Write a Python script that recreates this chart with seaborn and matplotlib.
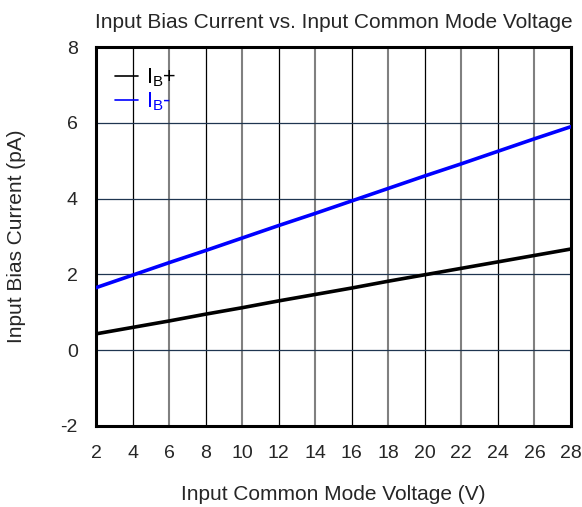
import pandas as pd
import matplotlib.pyplot as plt
import seaborn as sns

# Input common mode voltage (V)
vcm = [2, 4, 6, 8, 10, 12, 14, 16, 18, 20, 22, 24, 26, 28]
# Input bias current (pA)
ib_plus = [0.43, 0.60, 0.77, 0.95, 1.12, 1.30, 1.47, 1.64, 1.82, 1.99, 2.16, 2.33, 2.50, 2.67]
ib_minus = [1.65, 1.98, 2.31, 2.63, 2.96, 3.29, 3.61, 3.94, 4.27, 4.60, 4.92, 5.25, 5.58, 5.90]

series_names = [r'$\mathregular{I_B}$+', r'$\mathregular{I_B}$-']
series_colors = ['black', '#0000ff']

df = pd.DataFrame({
    'vcm': vcm * 2,
    'ib': ib_plus + ib_minus,
    'series': [series_names[0]] * len(vcm) + [series_names[1]] * len(vcm),
})

sns.set_style('white')
plt.rcParams['font.family'] = ['Liberation Sans', 'DejaVu Sans']
plt.rcParams['mathtext.fontset'] = 'custom'
plt.rcParams['mathtext.rm'] = 'Liberation Sans'
plt.rcParams['mathtext.it'] = 'Liberation Sans'
plt.rcParams['axes.unicode_minus'] = False

fig = plt.figure(figsize=(5.82, 5.07), dpi=100)
ax = fig.add_axes([0.165, 0.160, 0.816, 0.747])

# grid: every 2 V, alternating black / gray; horizontal dark navy
for x in range(4, 28, 4):
    ax.axvline(x, color='black', lw=0.9, zorder=1)
for x in range(6, 28, 4):
    ax.axvline(x, color='#808080', lw=1.5, zorder=1)
for y in [0, 2, 4, 6]:
    ax.axhline(y, color='#1f3550', lw=0.9, zorder=1)

sns.lineplot(data=df, x='vcm', y='ib', hue='series', palette=series_colors,
             linewidth=2.6, ax=ax, zorder=3, legend=False)

ax.set_xlim(2, 28)
ax.set_ylim(-2, 8)
ax.set_xticks(range(2, 29, 2))
ax.set_yticks(range(-2, 9, 2))
ax.tick_params(axis='both', length=0, labelsize=14)
ax.tick_params(axis='x', pad=14)
ax.tick_params(axis='y', pad=13)
for s in ax.spines.values():
    s.set_linewidth(2.2)
    s.set_color('black')

ax.set_xlabel('Input Common Mode Voltage (V)', fontsize=15)
ax.set_ylabel('Input Bias Current (pA)', fontsize=15)
ax.xaxis.set_label_coords(0.5, -0.155)
ax.yaxis.set_label_coords(-0.148, 0.5)
ax.set_title('Input Bias Current vs. Input Common Mode Voltage', fontsize=15, pad=14)

handles = [plt.Line2D([], [], color=c, lw=1.2) for c in series_colors]
leg = ax.legend(handles, series_names, loc='upper left', frameon=False,
                fontsize=15.5, handlelength=1.05, handletextpad=0.35,
                labelspacing=0.05, borderaxespad=0.5,
                bbox_to_anchor=(0.0, 1.0))
for t, c in zip(leg.get_texts(), series_colors):
    t.set_color(c)

fig.savefig('out.png', dpi=100, facecolor='white')
